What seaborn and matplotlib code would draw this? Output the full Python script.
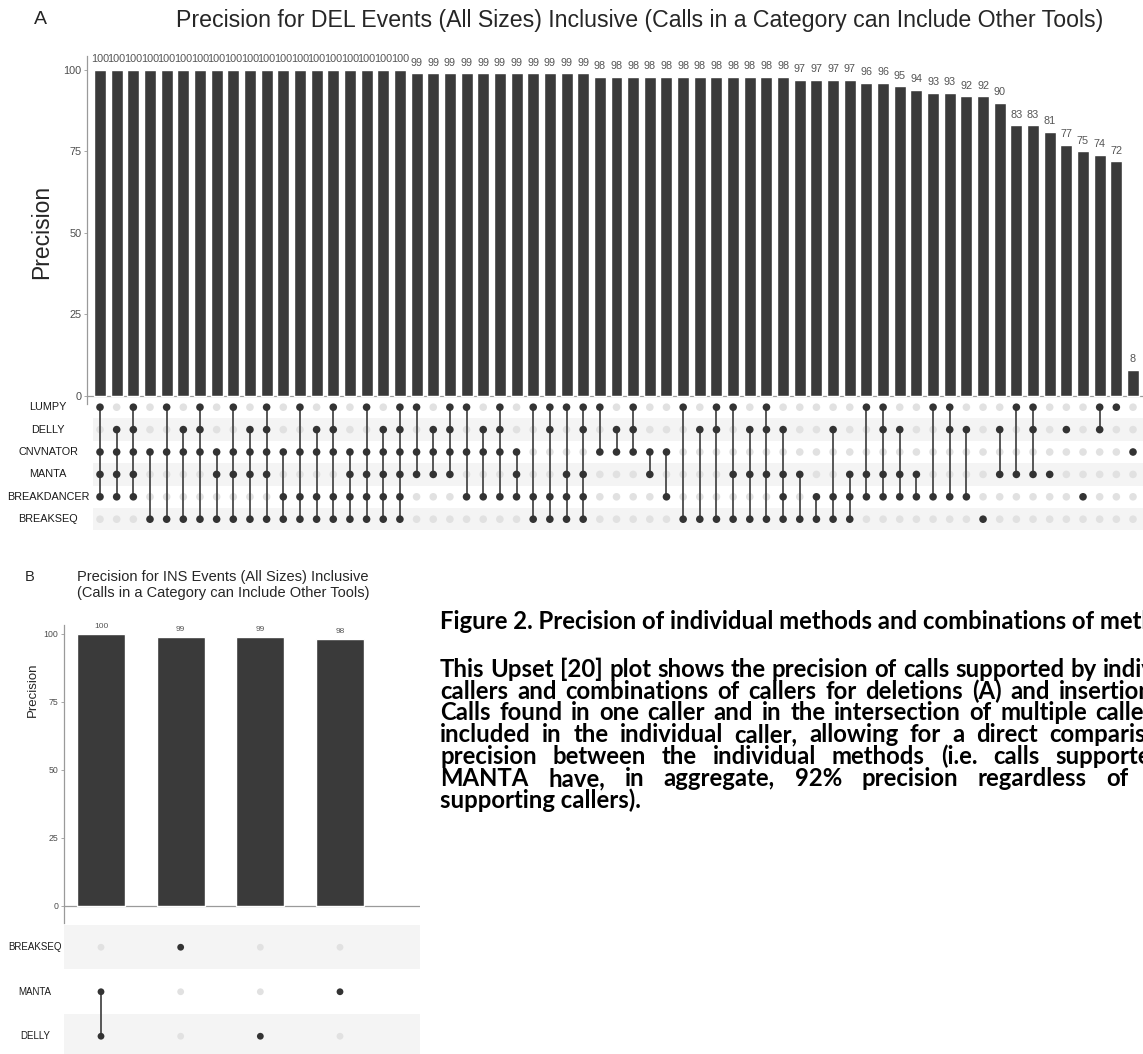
import numpy as np
import pandas as pd
import matplotlib
matplotlib.use("Agg")
import matplotlib.pyplot as plt
import matplotlib.transforms as mtrans
import seaborn as sns

# ---------------- data ----------------
del_sets = ["LUMPY", "DELLY", "CNVNATOR", "MANTA", "BREAKDANCER", "BREAKSEQ"]
del_precision = [100, 100, 100, 100, 100, 100, 100, 100, 100, 100, 100, 100, 100, 100, 100, 100, 100, 100, 100,
                 99, 99, 99, 99, 99, 99, 99, 99, 99, 99, 99,
                 98, 98, 98, 98, 98, 98, 98, 98, 98, 98, 98, 98,
                 97, 97, 97, 97, 96, 96, 95, 94, 93, 93, 92, 92, 90, 83, 83, 81, 77, 75, 74, 72, 8]
del_combos = [
    "LUMPY&CNVNATOR&MANTA&BREAKDANCER",
    "DELLY&CNVNATOR&MANTA&BREAKDANCER",
    "LUMPY&DELLY&CNVNATOR&MANTA&BREAKDANCER",
    "CNVNATOR&BREAKSEQ",
    "LUMPY&CNVNATOR&BREAKSEQ",
    "DELLY&CNVNATOR&BREAKSEQ",
    "LUMPY&DELLY&CNVNATOR&BREAKSEQ",
    "CNVNATOR&MANTA&BREAKSEQ",
    "LUMPY&CNVNATOR&MANTA&BREAKSEQ",
    "DELLY&CNVNATOR&MANTA&BREAKSEQ",
    "LUMPY&DELLY&CNVNATOR&MANTA&BREAKSEQ",
    "CNVNATOR&BREAKDANCER&BREAKSEQ",
    "LUMPY&CNVNATOR&BREAKDANCER&BREAKSEQ",
    "DELLY&CNVNATOR&BREAKDANCER&BREAKSEQ",
    "LUMPY&DELLY&CNVNATOR&BREAKDANCER&BREAKSEQ",
    "CNVNATOR&MANTA&BREAKDANCER&BREAKSEQ",
    "LUMPY&CNVNATOR&MANTA&BREAKDANCER&BREAKSEQ",
    "DELLY&CNVNATOR&MANTA&BREAKDANCER&BREAKSEQ",
    "LUMPY&DELLY&CNVNATOR&MANTA&BREAKDANCER&BREAKSEQ",
    "LUMPY&CNVNATOR&MANTA",
    "DELLY&CNVNATOR&MANTA",
    "LUMPY&DELLY&CNVNATOR&MANTA",
    "LUMPY&CNVNATOR&BREAKDANCER",
    "DELLY&CNVNATOR&BREAKDANCER",
    "LUMPY&DELLY&CNVNATOR&BREAKDANCER",
    "CNVNATOR&MANTA&BREAKDANCER",
    "LUMPY&BREAKDANCER&BREAKSEQ",
    "LUMPY&DELLY&BREAKDANCER&BREAKSEQ",
    "LUMPY&MANTA&BREAKDANCER&BREAKSEQ",
    "LUMPY&DELLY&MANTA&BREAKDANCER&BREAKSEQ",
    "LUMPY&CNVNATOR",
    "DELLY&CNVNATOR",
    "LUMPY&DELLY&CNVNATOR",
    "CNVNATOR&MANTA",
    "CNVNATOR&BREAKDANCER",
    "LUMPY&BREAKSEQ",
    "DELLY&BREAKSEQ",
    "LUMPY&DELLY&BREAKSEQ",
    "LUMPY&MANTA&BREAKSEQ",
    "DELLY&MANTA&BREAKSEQ",
    "LUMPY&DELLY&MANTA&BREAKSEQ",
    "DELLY&MANTA&BREAKDANCER&BREAKSEQ",
    "MANTA&BREAKSEQ",
    "BREAKDANCER&BREAKSEQ",
    "DELLY&BREAKDANCER&BREAKSEQ",
    "MANTA&BREAKDANCER&BREAKSEQ",
    "LUMPY&MANTA&BREAKDANCER",
    "LUMPY&DELLY&MANTA&BREAKDANCER",
    "DELLY&MANTA&BREAKDANCER",
    "MANTA&BREAKDANCER",
    "LUMPY&BREAKDANCER",
    "LUMPY&DELLY&BREAKDANCER",
    "DELLY&BREAKDANCER",
    "BREAKSEQ",
    "DELLY&MANTA",
    "LUMPY&MANTA",
    "LUMPY&DELLY&MANTA",
    "MANTA",
    "DELLY",
    "BREAKDANCER",
    "LUMPY&DELLY",
    "LUMPY",
    "CNVNATOR",
]

ins_sets = ["BREAKSEQ", "MANTA", "DELLY"]
ins_precision = [100, 99, 99, 98]
ins_combos = ["MANTA&DELLY", "BREAKSEQ", "DELLY", "MANTA"]

title_a = "Precision for DEL Events (All Sizes) Inclusive (Calls in a Category can Include Other Tools)"
title_b = "Precision for INS Events (All Sizes) Inclusive\n(Calls in a Category can Include Other Tools)"
caption_lines = [
    "Figure 2. Precision of individual methods and combinations of methods.",
    "This Upset [20] plot shows the precision of calls supported by individual",
    "callers and combinations of callers for deletions (A) and insertions (B).",
    "Calls found in one caller and in the intersection of multiple callers are",
    "included in the individual caller, allowing for a direct comparison of",
    "precision between the individual methods (i.e. calls supported by",
    "MANTA have, in aggregate, 92% precision regardless of other",
    "supporting callers).",
]

# ---------------- style ----------------
sns.set_style("white")
plt.rcParams['font.family'] = ['Liberation Sans', 'DejaVu Sans']

W, H = 1143, 1054
fig = plt.figure(figsize=(W / 100, H / 100), dpi=100)


def rect(l, t, r, b):
    return [l / W, 1 - b / H, (r - l) / W, (b - t) / H]


BAR_C = "#3a3a3a"
DOT_C = "#333333"
LIGHT_C = "#e1e1e1"
STRIPE_C = "#f4f4f4"
AXIS_C = "#9a9a9a"
TXT_C = "#4d4d4d"


def draw_bars(ax, combos, values, xlim, ylim, tick_fs, lab_fs, pad, width):
    df = pd.DataFrame({"combo": combos, "precision": values})
    sns.barplot(data=df, x="combo", y="precision", order=combos, color=BAR_C,
                saturation=1, width=width, errorbar=None, ax=ax)
    ax.bar_label(ax.containers[0], labels=[str(v) for v in values], padding=pad,
                 fontsize=lab_fs, color="#555555", clip_on=False)
    ax.set_xlim(*xlim)
    ax.set_ylim(*ylim)
    ax.set_facecolor("none")
    for s in ["top", "right", "bottom"]:
        ax.spines[s].set_visible(False)
    ax.spines["left"].set_color(AXIS_C)
    ax.spines["left"].set_linewidth(0.9)
    ax.axhline(0, color=AXIS_C, lw=0.9, zorder=0.5)
    ax.set_xticks([])
    ax.set_yticks([0, 25, 50, 75, 100])
    ax.tick_params(axis="y", length=2.5, width=0.6, color=AXIS_C, labelcolor=TXT_C,
                   labelsize=tick_fs, pad=1.5, left=True)
    ax.set_xlabel("")
    ax.set_ylabel("")


def draw_matrix(ax, combos, sets, xlim, shaded_rows, dot_s, lw, label_x, label_fs):
    rows = []
    for i, c in enumerate(combos):
        members = c.split("&")
        for r, s in enumerate(sets):
            rows.append({"col": i, "row": r, "member": s in members})
    mdf = pd.DataFrame(rows)
    for r in shaded_rows:
        ax.axhspan(r - 0.5, r + 0.5, color=STRIPE_C, lw=0, zorder=0)
    sns.scatterplot(data=mdf[~mdf.member], x="col", y="row", color=LIGHT_C, s=dot_s,
                    edgecolor="none", legend=False, ax=ax, zorder=2)
    members = mdf[mdf.member]
    span = members.groupby("col")["row"].agg(["min", "max"])
    span = span[span["max"] > span["min"]]
    ax.vlines(span.index, span["min"], span["max"], color="#4a4a4a", lw=lw, zorder=3)
    sns.scatterplot(data=members, x="col", y="row", color=DOT_C, s=dot_s,
                    edgecolor="none", legend=False, ax=ax, zorder=4)
    ax.set_xlim(*xlim)
    ax.set_ylim(len(sets) - 0.5, -0.5)
    ax.axis("off")
    tr = mtrans.blended_transform_factory(fig.transFigure, ax.transData)
    for r, s in enumerate(sets):
        ax.text(label_x / W, r, s, transform=tr, ha="center", va="center",
                fontsize=label_fs, color="#1a1a1a", clip_on=False)


# ---------------- panel A ----------------
sp = (1133 - 100) / 62
axAm = fig.add_axes(rect(93, 396, 1143, 530.4))
draw_matrix(axAm, del_combos, del_sets, ((93 - 100) / sp, (1143 - 100) / sp),
            [1, 3, 5], 30, 1.3, 48, 7.8)
axA = fig.add_axes(rect(87, 56, 1143, 404))
draw_bars(axA, del_combos, del_precision, ((87 - 100) / sp, (1143 - 100) / sp),
          (-2.5, 104.3), 7.8, 7.8, 4, 0.72)
fig.text(40 / W, 1 - 20 / H, "A", fontsize=14, ha="center", va="center")
fig.text(640 / W, 1 - 20 / H, title_a, fontsize=16.7, ha="center", va="center")
fig.text(42 / W, 1 - 232 / H, "Precision", fontsize=16.5, rotation=90,
         ha="center", va="center")

# ---------------- panel B ----------------
spb = (340 - 101) / 3
axBm = fig.add_axes(rect(64, 925, 420, 1058.5))
draw_matrix(axBm, ins_combos, ins_sets, ((64 - 101) / spb, (420 - 101) / spb),
            [0, 2], 24, 1.3, 35, 7)
axB = fig.add_axes(rect(64, 625, 420, 923))
draw_bars(axB, ins_combos, ins_precision, ((64 - 101) / spb, (420 - 101) / spb),
          (-6.3, 103.3), 6.3, 6, 3, 0.6)
fig.text(30 / W, 1 - 577 / H, "B", fontsize=10.5, ha="center", va="center")
fig.text(77 / W, 1 - 585 / H, title_b, fontsize=10.5, ha="left", va="center",
         linespacing=1.12)
fig.text(33 / W, 1 - 690 / H, "Precision", fontsize=9.5, rotation=90,
         ha="center", va="center")

# ---------------- caption (justified) ----------------
renderer = fig.canvas.get_renderer()
cap_font = dict(family=["Lato", "DejaVu Sans"], weight="bold", fontsize=17.2, color="black")
x0 = 440
baselines = [629, 677, 699, 720, 742, 764, 786, 808]
justify = [False, True, True, True, True, True, True, False]


def text_w(s):
    t = fig.text(0, 0, s, **cap_font)
    w = t.get_window_extent(renderer).width
    t.remove()
    return w


right_edge = x0 + text_w(caption_lines[1]) + 4
for line, yb, jus in zip(caption_lines, baselines, justify):
    if not jus:
        fig.text(x0 / W, 1 - yb / H, line, ha="left", va="baseline", **cap_font)
        continue
    words = line.split(" ")
    widths = [text_w(w) for w in words]
    gap = max((right_edge - x0 - sum(widths)) / (len(words) - 1), 1.5)
    x = x0
    for w, wd in zip(words, widths):
        fig.text(x / W, 1 - yb / H, w, ha="left", va="baseline", **cap_font)
        x += wd + gap

fig.savefig("out.png", dpi=100)
